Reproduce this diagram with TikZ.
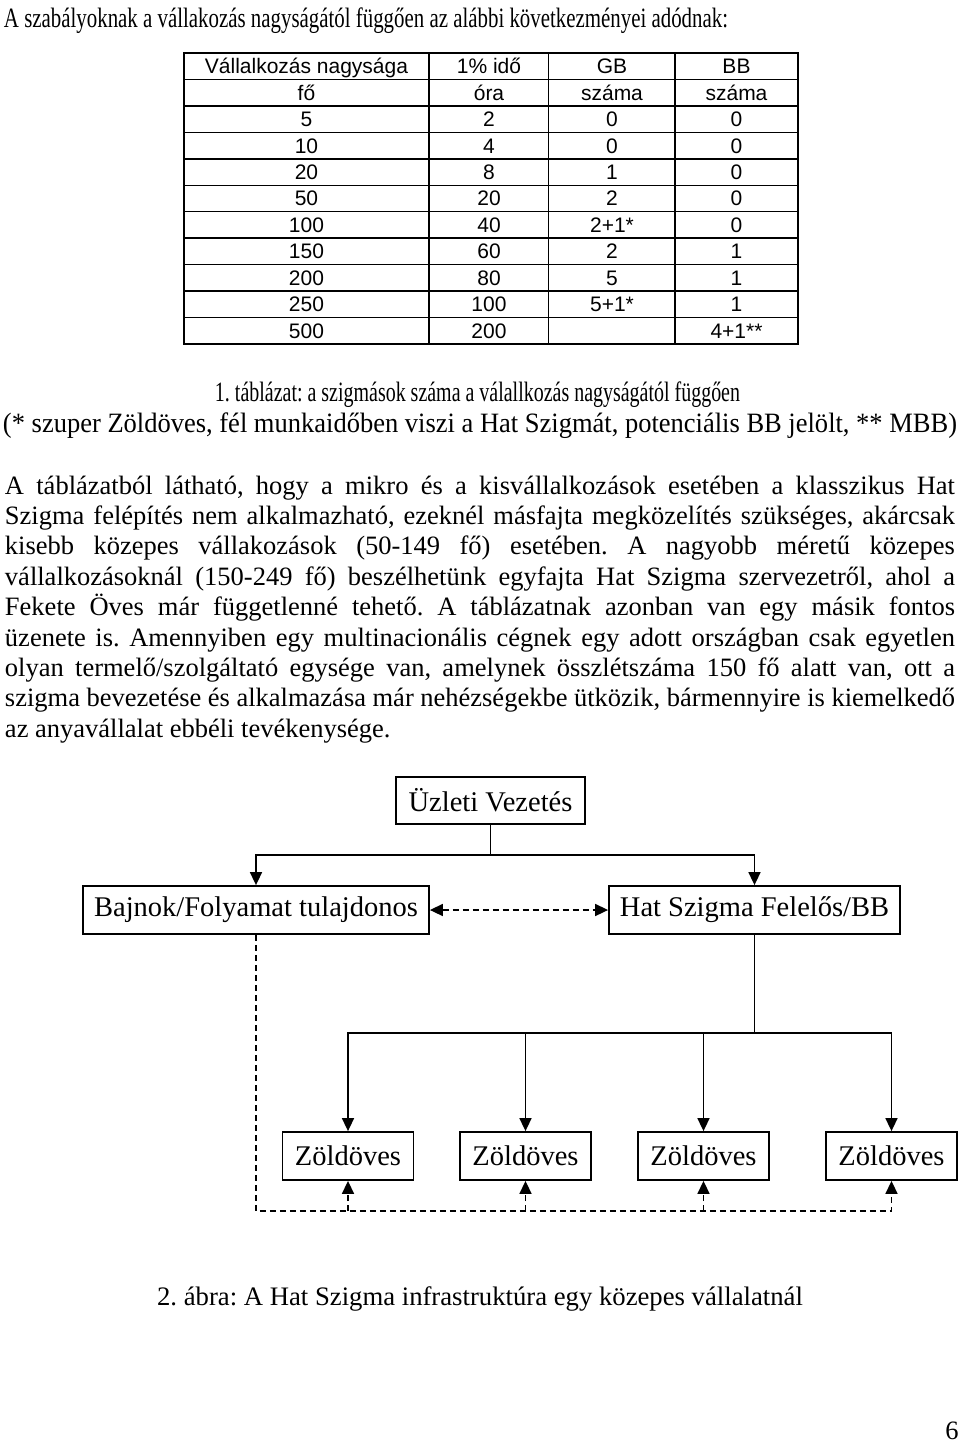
\documentclass[tikz,border=0pt]{standalone}
\usepackage{fontspec}
\setmainfont{Liberation Serif}
\newfontfamily\arialfont{Liberation Sans}
\usetikzlibrary{arrows.meta}
\frenchspacing
\newcommand{\bodysz}{\fontsize{26.5}{30.4}\selectfont}
\newcommand{\headsz}{\fontsize{28}{32}\selectfont}
\newcommand{\diagsz}{\fontsize{28.5}{32}\selectfont}
\newcommand{\tabsz}{\arialfont\fontsize{21}{26}\selectfont}
\newcommand{\jline}[1]{\makebox[950pt][s]{#1}}
\tikzset{
  txt/.style={inner sep=0pt, outer sep=0pt, font=\bodysz},
  bodyline/.style={txt, anchor=base west},
  tabtxt/.style={inner sep=0pt, anchor=base, font=\tabsz},
  boxnode/.style={draw, line width=1.8pt, inner sep=0pt, font=\diagsz},
  arr/.style={-{Triangle[length=13pt,width=12pt]}, line width=1.6pt},
  arrboth/.style={{Triangle[length=13pt,width=12pt]}-{Triangle[length=13pt,width=12pt]}, line width=1.6pt},
  dashline/.style={line width=1.6pt, dash pattern=on 6pt off 4pt},
  solidline/.style={line width=1.6pt}
}
\begin{document}
\begin{tikzpicture}[x=1pt,y=-1pt]
\useasboundingbox (0,0) rectangle (960,1444);

% title
\node[bodyline, font=\headsz] (title) at (4,27) {\resizebox{724pt}{\height}{A szabályoknak a vállakozás nagyságától függően az alábbi következményei adódnak:}};

% table
\def\ty{53}
\def\rh{26.45}
\foreach \k in {1,...,10}{
  \draw[line width=1.5pt] (184,{\ty+\k*\rh}) -- (798,{\ty+\k*\rh});
}
\foreach \xx in {429,548.5,675}{
  \draw[line width=1.5pt] (\xx,\ty) -- (\xx,{\ty+11*\rh});
}
\draw[line width=2.6pt] (184,\ty) rectangle (798,{\ty+11*\rh});

\foreach \r/\a/\b/\c/\d in {
  0/Vállalkozás nagysága/1\% idő/GB/BB,
  1/fő/óra/száma/száma,
  2/5/2/0/0,
  3/10/4/0/0,
  4/20/8/1/0,
  5/50/20/2/0,
  6/100/40/2+1*/0,
  7/150/60/2/1,
  8/200/80/5/1,
  9/250/100/5+1*/1,
  10/500/200/{}/4+1**}{
  \node[tabtxt] (t\r a) at (306.5,{\ty+(\r+0.5)*\rh+7.5}) {\a};
  \node[tabtxt] (t\r b) at (489,{\ty+(\r+0.5)*\rh+7.5}) {\b};
  \node[tabtxt] (t\r c) at (612,{\ty+(\r+0.5)*\rh+7.5}) {\c};
  \node[tabtxt] (t\r d) at (736.5,{\ty+(\r+0.5)*\rh+7.5}) {\d};
}

% table caption
\node[txt, anchor=base, font=\headsz] (cap1) at (477.5,401) {\resizebox{525pt}{\height}{1. táblázat: a szigmások száma a válallkozás nagyságától függően}};
\node[txt, anchor=base, font=\headsz] (cap2) at (480,432) {\resizebox{954pt}{\height}{(* szuper Zöldöves, fél munkaidőben viszi a Hat Szigmát, potenciális BB jelölt, ** MBB)}};

% paragraph
\node[bodyline] (p1) at (5,494) {\jline{A táblázatból látható, hogy a mikro és a kisvállalkozások esetében a klasszikus Hat}};
\node[bodyline] (p2) at (5,524.4) {\jline{Szigma felépítés nem alkalmazható, ezeknél másfajta megközelítés szükséges, akárcsak}};
\node[bodyline] (p3) at (5,554.8) {\jline{kisebb közepes vállakozások (50-149 fő) esetében. A nagyobb méretű közepes}};
\node[bodyline] (p4) at (5,585.2) {\jline{vállalkozásoknál (150-249 fő) beszélhetünk egyfajta Hat Szigma szervezetről, ahol a}};
\node[bodyline] (p5) at (5,615.6) {\jline{Fekete Öves már függetlenné tehető. A táblázatnak azonban van egy másik fontos}};
\node[bodyline] (p6) at (5,646) {\jline{üzenete is. Amennyiben egy multinacionális cégnek egy adott országban csak egyetlen}};
\node[bodyline] (p7) at (5,676.4) {\jline{olyan termelő/szolgáltató egysége van, amelynek összlétszáma 150 fő alatt van, ott a}};
\node[bodyline] (p8) at (5,706.8) {\jline{szigma bevezetése és alkalmazása már nehézségekbe ütközik, bármennyire is kiemelkedő}};
\node[bodyline] (p9) at (5,737.2) {az anyavállalat ebbéli tevékenysége.};

% diagram
\node[boxnode, minimum width=189pt, minimum height=47pt] (uz) at (490.5,800.5) {Üzleti Vezetés};
\node[boxnode, minimum width=346pt, minimum height=48pt] (bj) at (256,910) {Bajnok/Folyamat tulajdonos};
\node[boxnode, minimum width=291pt, minimum height=48pt] (hs) at (754.5,910) {Hat Szigma Felelős/BB};
\node[boxnode, minimum width=131pt, minimum height=48pt] (z1) at (348,1156) {Zöldöves};
\node[boxnode, minimum width=131pt, minimum height=48pt] (z2) at (525.5,1156) {Zöldöves};
\node[boxnode, minimum width=131pt, minimum height=48pt] (z3) at (703.5,1156) {Zöldöves};
\node[boxnode, minimum width=131pt, minimum height=48pt] (z4) at (891.5,1156) {Zöldöves};

\coordinate (j1) at (490.5,855);
\draw[solidline] (uz.south) -- (j1);
\draw[arr] (j1) -| (bj.north);
\draw[arr] (j1) -| (hs.north);
\draw[dashline, arrboth] (bj.east) -- (hs.west);

\coordinate (j2) at (754.5,1033);
\draw[solidline] (hs.south) -- (j2);
\foreach \z in {z1,z2,z3,z4}{
  \draw[arr] (j2) -| (\z.north);
}

\coordinate (d1) at (256,1211);
\draw[dashline, arr] (bj.south) -- (d1) -| (z4.south);
\foreach \z in {z1,z2,z3}{
  \draw[dashline, arr] (\z.south |- d1) -- (\z.south);
}

\node[txt, anchor=base, font=\fontsize{26.7}{30}\selectfont] (cap3) at (480,1305.5) {2. ábra: A Hat Szigma infrastruktúra egy közepes vállalatnál};
\node[txt, anchor=base] (pg) at (952,1439) {6};
\end{tikzpicture}
\end{document}
